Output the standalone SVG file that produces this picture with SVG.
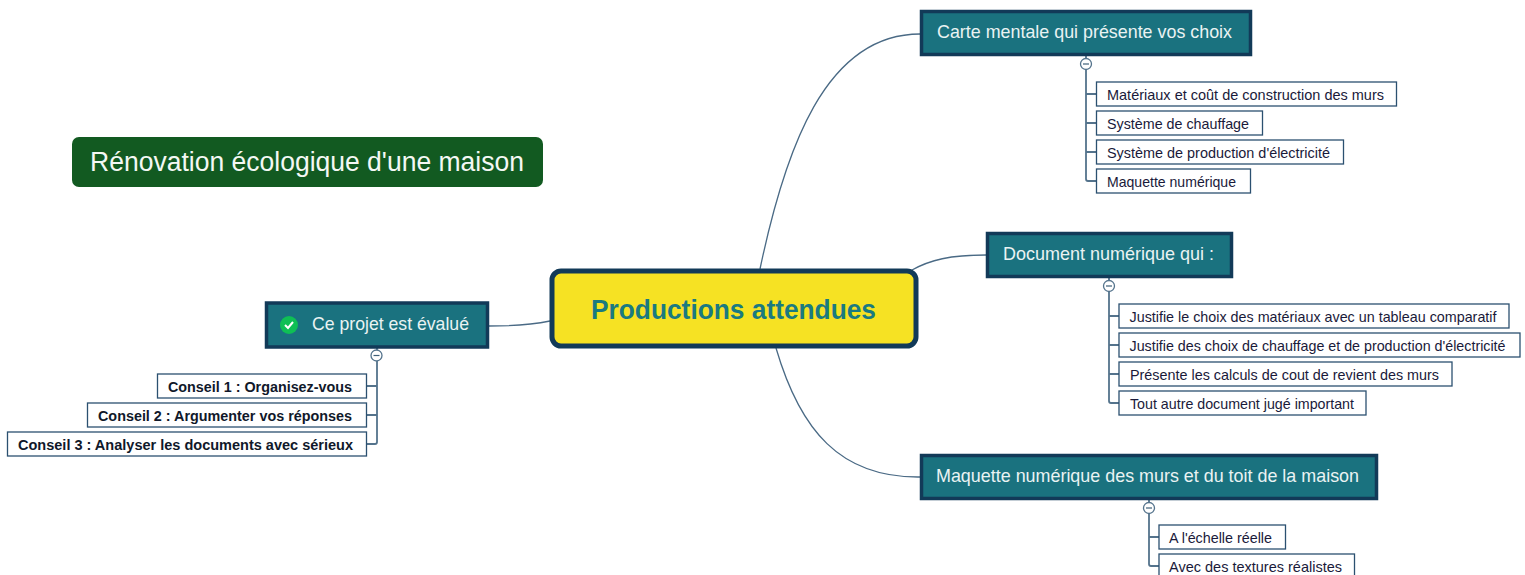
<svg xmlns="http://www.w3.org/2000/svg" width="1525" height="575" viewBox="0 0 1525 575">
<style>
text{font-family:"Liberation Sans",Arial,sans-serif}
.t rect{fill:#1a727f;stroke:#123a58;stroke-width:3.5}
.t text{fill:#eaf3f3;font-size:18.500px}
.s rect{fill:#fff;stroke:#2b5070;stroke-width:1.3}
.s text{fill:#1a1a3a;font-size:14.500px}
.b text{fill:#10182a;font-size:14.500px;font-weight:700}
.c{fill:none;stroke:#4a6a85;stroke-width:1.3}
.k{fill:none;stroke:#54738c;stroke-width:1.8}
.o{fill:#fff;stroke:#54738c;stroke-width:1.3}
.m{stroke:#3f6079;stroke-width:1.2}
</style>
<g id="connectors">
<path class="c" d="M760 269C785 150 825 34 920 34"/>
<path class="c" d="M912 270C930 260 950 255 986 255"/>
<path class="c" d="M776 348C800 430 840 478 920 477"/>
<path class="c" d="M550 321C530 325 510 326 489 326"/>
<path class="k" d="M1086 56V179Q1086 181 1088 181H1096M1086 94H1096M1086 123H1096M1086 152H1096"/>
<path class="k" d="M1109 278V401Q1109 403 1111 403H1119M1109 316H1119M1109 345H1119M1109 374H1119"/>
<path class="k" d="M1149 500V564Q1149 566 1151 566H1159M1149 537H1159"/>
<path class="k" d="M377 348V442Q377 444 375 444H367M377 386H367M377 415H367"/>
<circle class="o" cx="1086" cy="64" r="5.500"/><path class="m" d="M1083 64H1089"/>
<circle class="o" cx="1109" cy="286" r="5.500"/><path class="m" d="M1106 286H1112"/>
<circle class="o" cx="1149" cy="508" r="5.500"/><path class="m" d="M1146 508H1152"/>
<circle class="o" cx="376.500" cy="355.500" r="5.500"/><path class="m" d="M373.500 355.500H379.500"/>
</g>
<g id="title"><rect x="72" y="137" width="471" height="50" rx="7" fill="#125a21"/><text x="90" y="171" font-size="27" fill="#f4f8f4" textLength="434" lengthAdjust="spacingAndGlyphs">Rénovation écologique d'une maison</text></g>
<g id="center"><rect x="552" y="271" width="364" height="75" rx="9" fill="#f6e223" stroke="#123a58" stroke-width="5"/><text x="591" y="319" font-size="27" font-weight="700" fill="#1a7a80" textLength="285" lengthAdjust="spacingAndGlyphs">Productions attendues</text></g>
<g id="t1" class="t"><rect x="921.5" y="11.5" width="329" height="43"/><text x="937" y="38" textLength="295" lengthAdjust="spacingAndGlyphs">Carte mentale qui présente vos choix</text></g>
<g id="t2" class="t"><rect x="987.5" y="233.5" width="244" height="43"/><text x="1003" y="260" textLength="211" lengthAdjust="spacingAndGlyphs">Document numérique qui :</text></g>
<g id="t3" class="t"><rect x="921.5" y="455.5" width="455" height="43"/><text x="936" y="482" textLength="423" lengthAdjust="spacingAndGlyphs">Maquette numérique des murs et du toit de la maison</text></g>
<g id="t4" class="t"><rect x="266.5" y="303" width="221" height="44"/><circle cx="289" cy="325" r="9" fill="#0fbf55"/><path d="M285 325L288 328L293 322" fill="none" stroke="#fff" stroke-width="2"/><text x="312" y="330" textLength="157" lengthAdjust="spacingAndGlyphs">Ce projet est évalué</text></g>
<g id="s11" class="s"><rect x="1096.5" y="82" width="300" height="24"/><text x="1107" y="99.500" textLength="277" lengthAdjust="spacingAndGlyphs">Matériaux et coût de construction des murs</text></g>
<g id="s12" class="s"><rect x="1096.5" y="111" width="166" height="24"/><text x="1107" y="128.500" textLength="142" lengthAdjust="spacingAndGlyphs">Système de chauffage</text></g>
<g id="s13" class="s"><rect x="1096.5" y="140" width="247" height="24"/><text x="1107" y="157.500" textLength="223" lengthAdjust="spacingAndGlyphs">Système de production d'électricité</text></g>
<g id="s14" class="s"><rect x="1096.5" y="169" width="154" height="24"/><text x="1107" y="186.500" textLength="129" lengthAdjust="spacingAndGlyphs">Maquette numérique</text></g>
<g id="s21" class="s"><rect x="1119" y="304" width="390" height="24"/><text x="1129.500" y="321.500" textLength="367" lengthAdjust="spacingAndGlyphs">Justifie le choix des matériaux avec un tableau comparatif</text></g>
<g id="s22" class="s"><rect x="1119" y="333" width="401" height="24"/><text x="1129.500" y="350.500" textLength="376" lengthAdjust="spacingAndGlyphs">Justifie des choix de chauffage et de production d'électricité</text></g>
<g id="s23" class="s"><rect x="1119" y="362" width="333" height="24"/><text x="1130" y="379.500" textLength="309" lengthAdjust="spacingAndGlyphs">Présente les calculs de cout de revient des murs</text></g>
<g id="s24" class="s"><rect x="1119" y="391" width="247" height="24"/><text x="1130" y="408.500" textLength="224" lengthAdjust="spacingAndGlyphs">Tout autre document jugé important</text></g>
<g id="s31" class="s"><rect x="1159" y="525" width="126.500" height="24"/><text x="1169" y="542.500" textLength="103" lengthAdjust="spacingAndGlyphs">A l'échelle réelle</text></g>
<g id="s32" class="s"><rect x="1159" y="554" width="195.500" height="24"/><text x="1169" y="571.500" textLength="173" lengthAdjust="spacingAndGlyphs">Avec des textures réalistes</text></g>
<g id="s41" class="s b"><rect x="157.500" y="374" width="209" height="24"/><text x="168" y="391.500" textLength="184" lengthAdjust="spacingAndGlyphs">Conseil 1 : Organisez-vous</text></g>
<g id="s42" class="s b"><rect x="87.500" y="403" width="279" height="24"/><text x="98" y="420.500" textLength="254" lengthAdjust="spacingAndGlyphs">Conseil 2 : Argumenter vos réponses</text></g>
<g id="s43" class="s b"><rect x="7.500" y="432" width="359" height="24"/><text x="18" y="449.500" textLength="335" lengthAdjust="spacingAndGlyphs">Conseil 3 : Analyser les documents avec sérieux</text></g>
</svg>
